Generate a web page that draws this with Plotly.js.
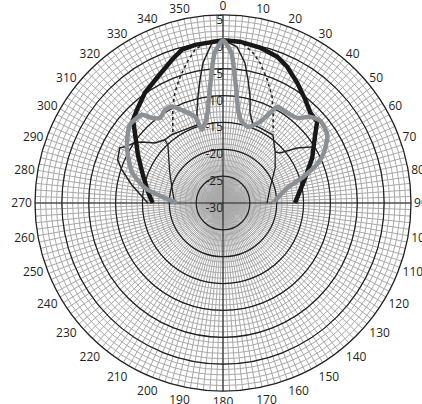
<!DOCTYPE html>
<html>
<head>
<meta charset="utf-8">
<script src="https://cdn.plot.ly/plotly-3.0.1.min.js"></script>
<style>html,body{margin:0;padding:0;background:#fff;}#chart{width:422px;height:404px;}</style>
</head>
<body>
<div id="chart"></div>
<script>
// ---- data (angles in degrees, clockwise from top; values in dB) ----
var angleLabels = ['0','10','20','30','40','50','60','70','80','90','100','110','120','130','140','150','160','170','180','190','200','210','220','230','240','250','260','270','280','290','300','310','320','330','340','350'];
var radialTickVals = [-30,-25,-20,-15,-10,-5,0,5];
var radialTickLabels = ['-30','-25','-20','-15','-10','-5','0','5'];

var thickTheta = [270,278.3,289.3,299.5,308.9,312.7,317.2,324.7,332.7,340.4,345,350,0,6,13.4,20.3,25.2,31.7,38.5,44,49.2,53.5,63.2,73,83.9,90];
var thickR     = [-16.9,-15.9,-14.2,-11.8,-8.9,-7.2,-6.4,-4.85,-3.55,-1.7,-0.45,-0.1,0.3,0.2,-0.26,-0.95,-1.96,-3.7,-5.4,-6.6,-6.85,-8.65,-11.4,-14,-15.9,-16.6];

var thinTheta = [270,281.2,288.1,292.3,298.1,299.7,304.3,307,311.4,317.4,323.1,332.5,341.6,343.9,346.7,349.4,351.9,356.5,0,5.1,8.9,11.5,14.3,16.7,21,26.3,36.3,45.6,48.7,53.4,58.1,63.2,73,83.9,90];
var thinR     = [-16,-12.7,-10.2,-8.8,-8.2,-8.9,-10.1,-11.1,-13.1,-14,-14.1,-14.6,-14.7,-12.5,-9.7,-6.7,-3.6,0.3,0.4,-0.8,-3.6,-6.6,-9.6,-12.5,-14.4,-14.4,-14.3,-16.4,-15.9,-12.8,-10.2,-11.4,-14,-15.9,-16.6];

var innerTheta = [270,282.4,300.3,316.5,317.4,null,45.6,56.1,72.3,90];
var innerR     = [-21,-20.4,-18.5,-15.1,-14,null,-16.4,-18.3,-20.8,-21.8];

var dotTheta = [324.8,328.9,332.5,336.4,341.2,345.6,349.6,353.6,0,7.2,11.3,14.8,19.7,24.8,29.1,35.2];
var dotR     = [-13.8,-11.9,-9.8,-7.6,-5.2,-3,-1,0,0.3,-0.1,-1.5,-3,-5.6,-8.2,-10.8,-13.8];

var grayTheta = [270,275,280.9,288.8,299.8,310,317.4,320,323.5,328,332,337,342,344,348.5,350.8,353,355,356.8,0,3.2,5,7,9.2,12.2,18.2,24.5,27.6,29.4,35.4,41,45.3,49.8,56.8,63.2,67.5,72,76.8,90];
var grayR     = [-21.4,-19.1,-15.2,-12.1,-9.4,-7.35,-7.7,-9.3,-10.3,-9.6,-9.65,-11.4,-13.1,-15.8,-14.2,-12.4,-9.3,-5.7,-2,0.3,-2,-5.7,-9.3,-12.4,-14.2,-15.1,-13.4,-11.1,-9.5,-9.4,-9,-7.2,-6.3,-6.8,-8.9,-11,-14.3,-17.7,-20.7];

// ---- grid helpers ----
var gridAngles = [], gridText = [];
for (var a = 0; a < 360; a += 2) {
  gridAngles.push(a);
  gridText.push(a % 10 === 0 ? angleLabels[a / 10] : '');
}

var INK = '#231f20';
var data = [
  {type:'scatterpolar', subplot:'polar', mode:'text', r:radialTickVals,
   theta:radialTickVals.map(function(){return 0;}), text:radialTickLabels,
   textposition:'bottom left', textfont:{family:'Open Sans, sans-serif', size:12, color:INK},
   hoverinfo:'skip', cliponaxis:false},
  {type:'scatterpolar', subplot:'polar2', mode:'lines', r:thinR, theta:thinTheta,
   line:{color:INK, width:1.5}, hoverinfo:'skip'},
  {type:'scatterpolar', subplot:'polar2', mode:'lines', r:innerR, theta:innerTheta,
   line:{color:INK, width:1.3}, connectgaps:false, hoverinfo:'skip'},
  {type:'scatterpolar', subplot:'polar2', mode:'lines', r:dotR, theta:dotTheta,
   line:{color:INK, width:1.6, dash:'dot'}, hoverinfo:'skip'},
  {type:'scatterpolar', subplot:'polar2', mode:'lines', r:thickR, theta:thickTheta,
   line:{color:'#1a1718', width:4.5}, hoverinfo:'skip'},
  {type:'scatterpolar', subplot:'polar2', mode:'lines', r:grayR, theta:grayTheta,
   line:{color:'#8b9095', width:4.5, shape:'spline', smoothing:0.6}, hoverinfo:'skip'}
];

var layout = {
  width:422, height:404,
  margin:{l:35, r:11, t:15, b:13},
  paper_bgcolor:'#ffffff',
  showlegend:false,
  font:{family:'Open Sans, sans-serif', color:INK},
  polar:{
    domain:{x:[0,1], y:[0,1]},
    bgcolor:'#ffffff',
    radialaxis:{range:[-30,5], tick0:-30, dtick:1, gridcolor:'#a9a9a9', gridwidth:1,
                showticklabels:false, ticks:'', showline:false},
    angularaxis:{rotation:90, direction:'clockwise', tickmode:'array',
                 tickvals:gridAngles, ticktext:gridText, gridcolor:'#a9a9a9', gridwidth:1,
                 showline:true, linecolor:INK, linewidth:1.3, ticks:'',
                 tickfont:{family:'Open Sans, sans-serif', size:12, color:INK}}
  },
  polar2:{
    domain:{x:[0,1], y:[0,1]},
    bgcolor:'rgba(0,0,0,0)',
    radialaxis:{range:[-30,5], tickmode:'array', tickvals:radialTickVals.slice(1),
                gridcolor:INK, gridwidth:1.2, showticklabels:false, ticks:'', showline:false},
    angularaxis:{rotation:90, direction:'clockwise', tickmode:'array', tickvals:[0,90,180,270],
                 gridcolor:INK, gridwidth:1.1, showticklabels:false, ticks:'', showline:false}
  }
};

Plotly.newPlot('chart', data, layout, {staticPlot:true, displayModeBar:false});
</script>
</body>
</html>
